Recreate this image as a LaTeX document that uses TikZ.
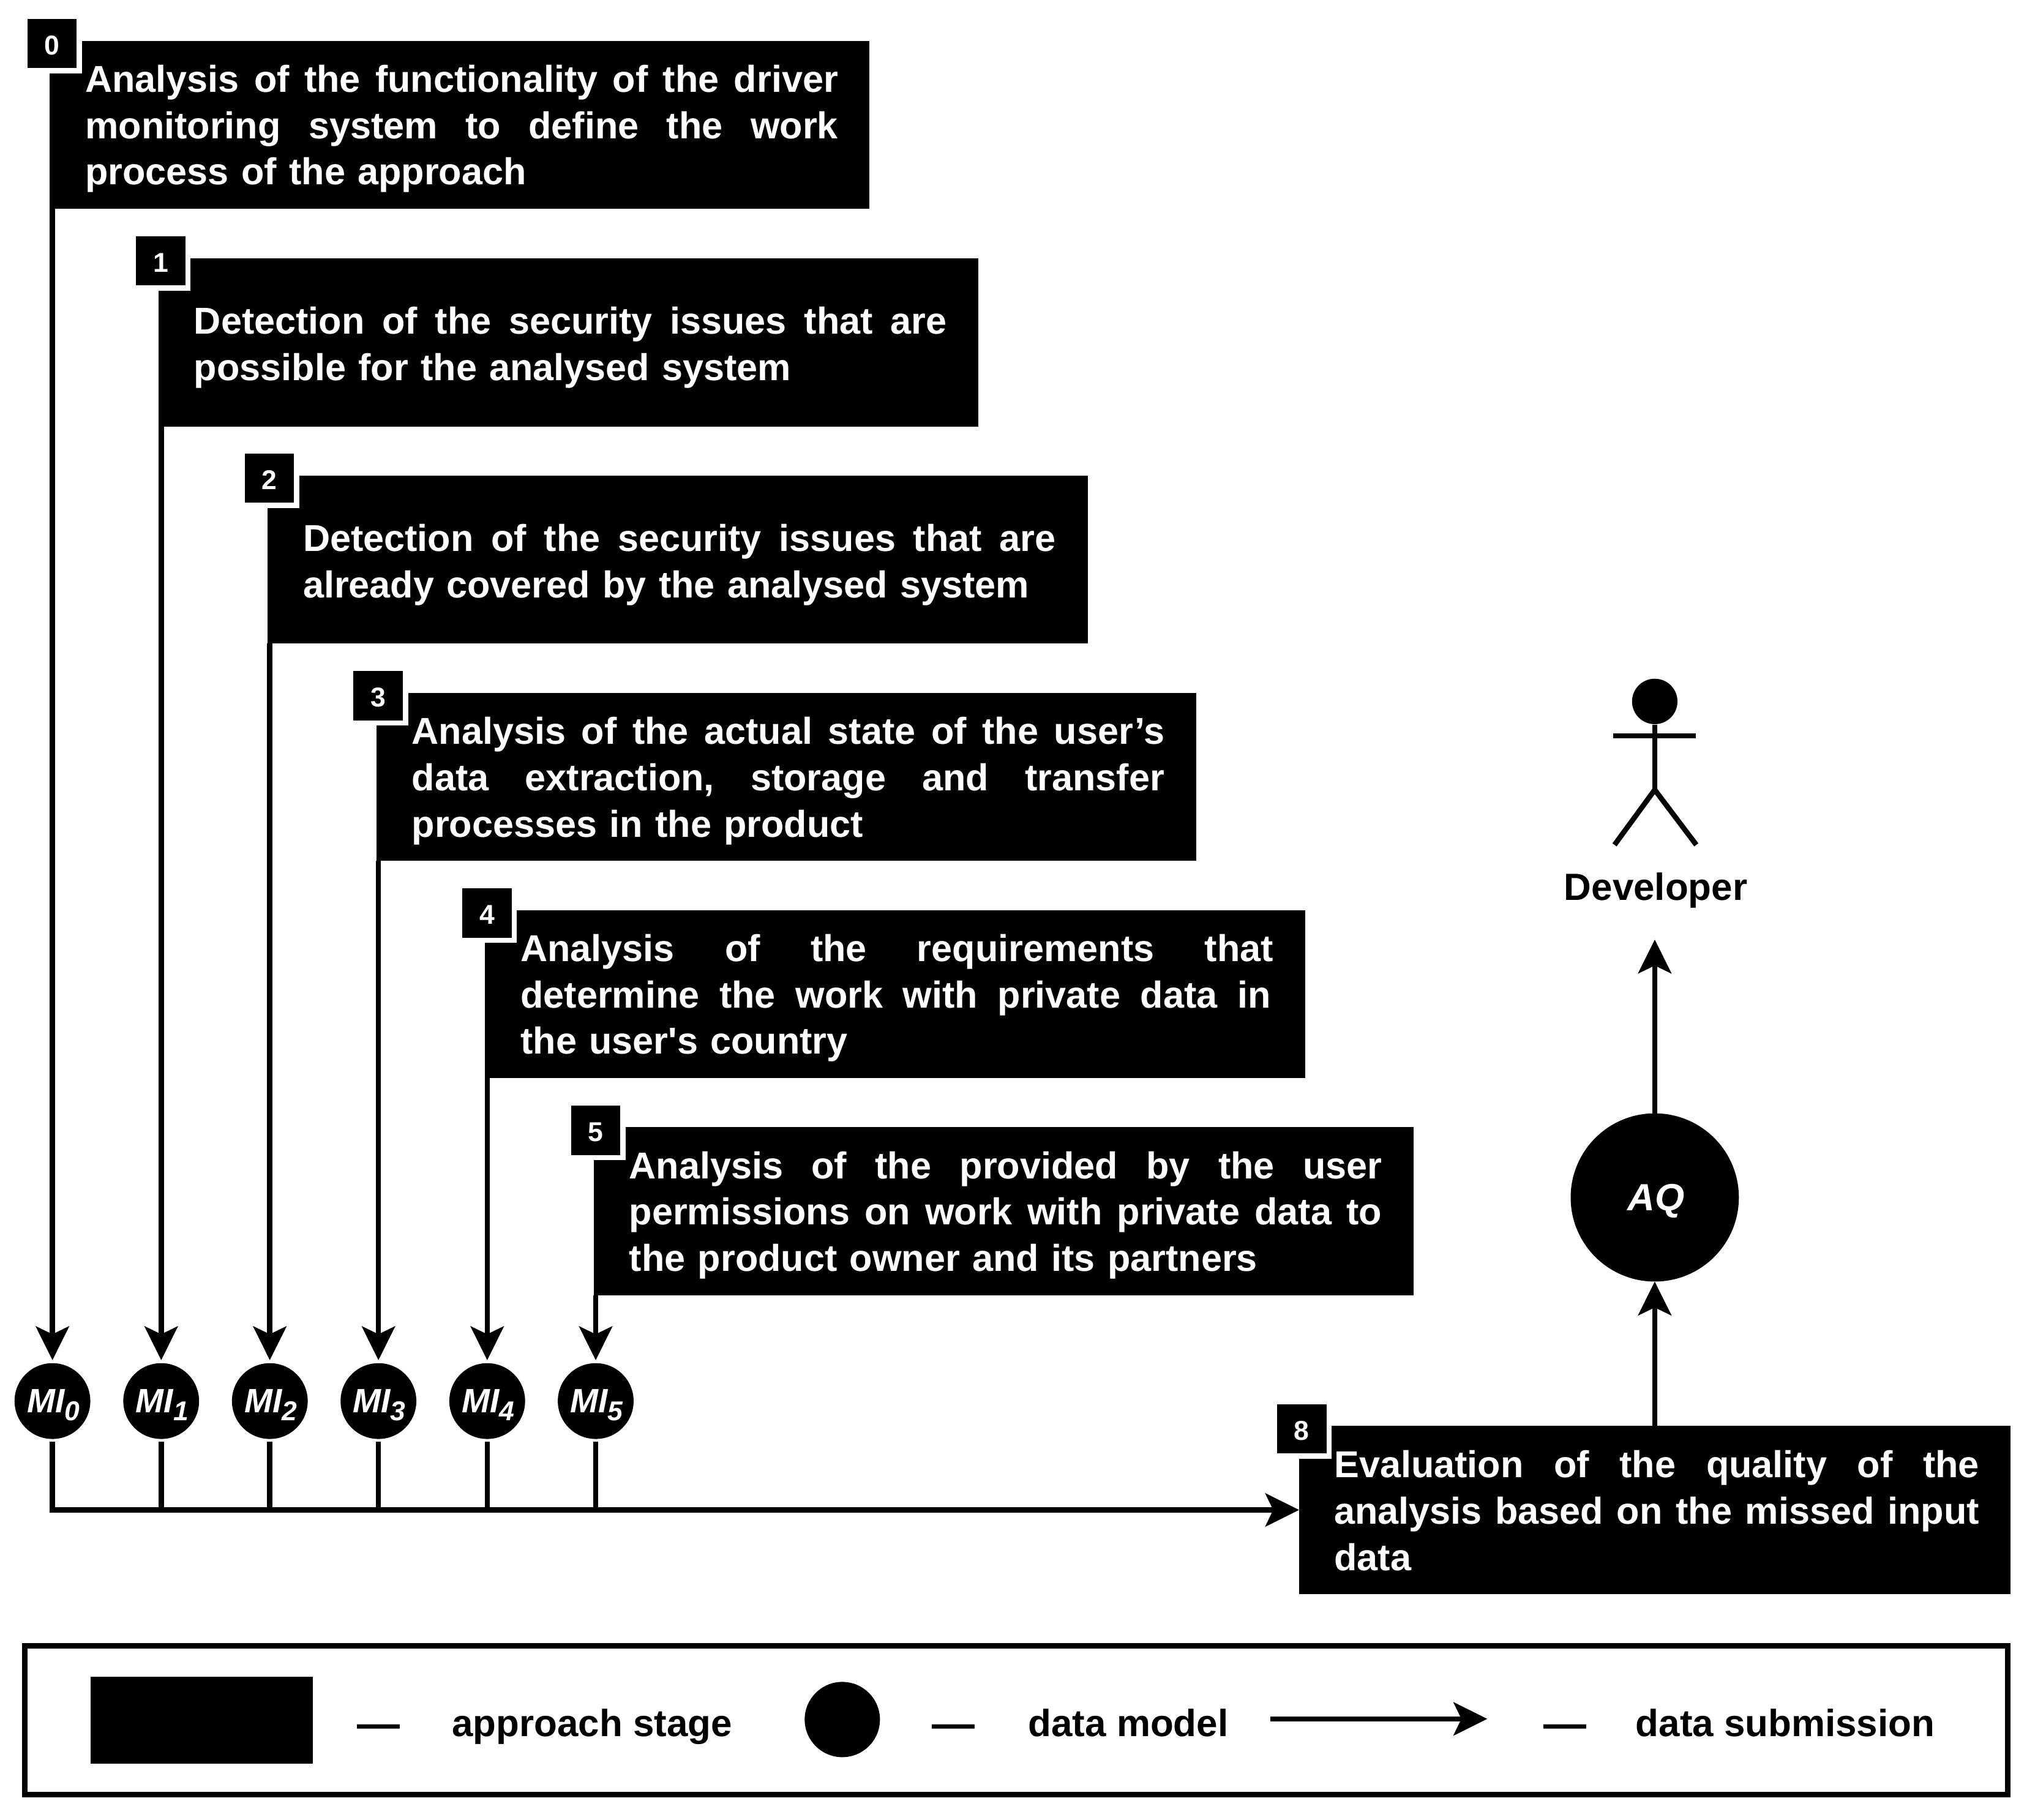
\documentclass[tikz,border=0pt]{standalone}
\usepackage{fontspec}
\setmainfont{Liberation Sans}
\newfontfamily\straightf{Liberation Sans}
\usetikzlibrary{arrows.meta}
\newlength\ppx
\setlength\ppx{0.02cm}
\newcommand{\fontpx}[2]{\fontsize{#1\ppx}{#2\ppx}\selectfont}
% a line stretched to a given width (in picture units)
\newcommand{\jl}[2]{\hspace*{2.5\ppx}\hbox to #1\ppx{\frenchspacing\spaceskip=0.25em plus 1fil\relax #2}\\}
% last, unstretched line
\newcommand{\lastl}[1]{\hspace*{2.5\ppx}#1}
% a strut in the first line moves the text block down
\newcommand{\stagestart}[1]{\rule{0pt}{#1\ppx}}
\newcommand{\mitext}[1]{\hspace*{1.5\ppx}\raisebox{-3\ppx}[\height][\depth]{\fontpx{26}{30}\bfseries\itshape MI\raisebox{-6\ppx}{\fontpx{21}{24}\bfseries\itshape #1}}}
\tikzset{
  x=0.02cm,y=-0.02cm,
  stagebox/.style={fill=black,text=white,inner sep=0pt,outer sep=0pt,minimum height=129.5\ppx,
    align=left,font=\fontpx{28.85}{35.7}\bfseries},
  tagbox/.style={fill=black,draw=white,line width=4\ppx,text=white,inner sep=0pt,outer sep=0pt,
    minimum width=42\ppx,minimum height=42\ppx,font=\fontpx{21}{24}\bfseries},
  midata/.style={circle,fill=black,text=white,inner sep=0pt,outer sep=2.3\ppx,minimum size=58.4\ppx},
  flow/.style={line width=4\ppx,-{Stealth[length=0.52cm,width=0.51cm,inset=0.12cm]}},
  wire/.style={line width=4\ppx},
  legtext/.style={anchor=base west,inner sep=0pt,font=\fontpx{29.2}{35.7}\bfseries},
  legdash/.style={anchor=base west,inner sep=0pt,font=\fontpx{33}{35.7}\bfseries},
}
\newcommand{\tagnum}[1]{\raisebox{-1.5\ppx}[\height][\depth]{#1}}
\begin{document}
\begin{tikzpicture}
\useasboundingbox (0,0) rectangle (1568,1402);
% stage boxes
\node[stagebox,minimum width=631.7\ppx,text width=582\ppx] (box0) at (354.2,96.2)
  {\stagestart{27}\jl{580}{Analysis of the functionality of the driver}\jl{580}{monitoring system to define the work}\lastl{process of the approach}};
\node[stagebox,minimum width=631.9\ppx,text width=582\ppx] (box1) at (438,263.9)
  {\stagestart{29}\jl{580}{Detection of the security issues that are}\lastl{possible for the analysed system}};
\node[stagebox,minimum width=632\ppx,text width=582\ppx] (box2) at (522,431.2)
  {\stagestart{29}\jl{580}{Detection of the security issues that are}\lastl{already covered by the analysed system}};
\node[stagebox,minimum width=631.7\ppx,text width=582\ppx] (box3) at (605.8,598.7)
  {\stagestart{27}\jl{580}{Analysis of the actual state of the user’s}\jl{580}{data extraction, storage and transfer}\lastl{processes in the product}};
\node[stagebox,minimum width=631.8\ppx,text width=582\ppx] (box4) at (689.6,766)
  {\stagestart{27}\jl{580}{Analysis of the requirements that}\jl{578}{determine the work with private data in}\lastl{the user{\straightf\bfseries '}s country}};
\node[stagebox,minimum width=631.5\ppx,text width=582\ppx] (box5) at (773.3,933.3)
  {\stagestart{27}\jl{580}{Analysis of the provided by the user}\jl{580}{permissions on work with private data to}\lastl{the product owner and its partners}};
\node[stagebox,minimum width=548\ppx,text width=499\ppx] (box8) at (1275,1163.5)
  {\stagestart{22}\jl{497}{Evaluation of the quality of the}\jl{497}{analysis based on the missed input}\lastl{data}};
% number tags
\node[tagbox] (tag0) at (40,33.5) {\tagnum{0}};
\node[tagbox] (tag1) at (123.8,201) {\tagnum{1}};
\node[tagbox] (tag2) at (207.6,368.5) {\tagnum{2}};
\node[tagbox] (tag3) at (291.4,536) {\tagnum{3}};
\node[tagbox] (tag4) at (375.2,703.5) {\tagnum{4}};
\node[tagbox] (tag5) at (459,871) {\tagnum{5}};
\node[tagbox] (tag8) at (1003,1101) {\tagnum{8}};
% data models
\node[midata] (mi0) at (40.4,1079.6) {\mitext{0}};
\node[midata] (mi1) at (124.2,1079.6) {\mitext{1}};
\node[midata] (mi2) at (207.9,1079.6) {\mitext{2}};
\node[midata] (mi3) at (291.6,1079.6) {\mitext{3}};
\node[midata] (mi4) at (375.4,1079.6) {\mitext{4}};
\node[midata] (mi5) at (459,1079.6) {\mitext{5}};
\node[circle,fill=black,text=white,inner sep=0pt,outer sep=0pt,minimum size=129.6\ppx,font=\fontpx{29.2}{35}\bfseries\itshape] (aq) at (1275,922.7) {\hspace*{2\ppx}\raisebox{-3\ppx}[\height][\depth]{AQ}};
% developer
\node[inner sep=0pt,outer sep=0pt,minimum height=82\ppx,font=\fontpx{29.2}{35}\bfseries] (dev) at (1275.8,683) {\raisebox{-3\ppx}[\height][\depth]{Developer}};
\node[circle,fill=black,inner sep=0pt,minimum size=35\ppx] (head) at (1275,540.5) {};
\coordinate (hip) at (1275,608.6);
\coordinate (armL) at (1243,567);
\coordinate (armR) at (1306.5,567);
\coordinate (legL) at (1244,651);
\coordinate (legR) at (1307,651);
\draw[wire] (head.south) -- (hip);
\draw[wire] (armL) -- (armR);
\draw[wire] (legL) -- (hip) -- (legR);
% connectors
\draw[flow] (box0.south -| mi0) -- (mi0.north);
\draw[flow] (box1.south -| mi1) -- (mi1.north);
\draw[flow] (box2.south -| mi2) -- (mi2.north);
\draw[flow] (box3.south -| mi3) -- (mi3.north);
\draw[flow] (box4.south -| mi4) -- (mi4.north);
\draw[flow] (box5.south -| mi5) -- (mi5.north);
\draw[flow] (mi0.south) |- (box8.west);
\draw[wire] (mi1.south) -- (mi1.south |- box8.west);
\draw[wire] (mi2.south) -- (mi2.south |- box8.west);
\draw[wire] (mi3.south) -- (mi3.south |- box8.west);
\draw[wire] (mi4.south) -- (mi4.south |- box8.west);
\draw[wire] (mi5.south) -- (mi5.south |- box8.west);
\draw[flow] (box8.north) -- (aq.south);
\draw[flow] (aq.north) -- (dev.south -| aq);
% legend
\node[draw=black,line width=4.3\ppx,inner sep=0pt,minimum width=1528\ppx,minimum height=115\ppx] (frame) at (783,1325.5) {};
\node[fill=black,inner sep=0pt,minimum width=171\ppx,minimum height=67\ppx] (legbox) at (155.5,1325.5) {};
\node[circle,fill=black,inner sep=0pt,minimum size=58\ppx] (legcirc) at (649,1325) {};
\coordinate (lega) at (979,1324.5);
\coordinate (legb) at (1146,1324.5);
\draw[flow] (lega) -- (legb);
\node[legdash] (d1) at (275,1339.6) {—};
\node[legtext] (t1) at (348,1338.1) {approach stage};
\node[legdash] (d2) at (718,1339.6) {—};
\node[legtext] (t2) at (792,1338.1) {data model};
\node[legdash] (d3) at (1189,1339.6) {—};
\node[legtext] (t3) at (1260,1338.1) {data submission};
\end{tikzpicture}
\end{document}
